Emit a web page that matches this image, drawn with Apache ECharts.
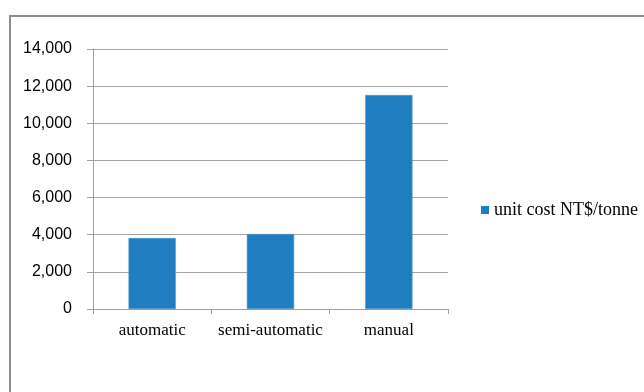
<!DOCTYPE html>
<html>
<head>
<meta charset="utf-8">
<script src="https://cdn.jsdelivr.net/npm/echarts@6/dist/echarts.min.js"></script>
<style>
html,body{margin:0;padding:0;background:#fff;}
#chart{width:644px;height:392px;}
</style>
</head>
<body>
<div id="chart"></div>
<script>
var categories = ['automatic', 'semi-automatic', 'manual'];
var seriesName = 'unit cost NT$/tonne';
var unitCost = [3820, 4040, 11520];
var yTicks = [0, 2000, 4000, 6000, 8000, 10000, 12000, 14000];

var chart = echarts.init(document.getElementById('chart'), null, {renderer: 'canvas'});
chart.setOption({
  animation: false,
  backgroundColor: '#ffffff',
  graphic: [{
    type: 'rect',
    shape: {x: 10, y: 16, width: 700, height: 420},
    style: {fill: 'none', stroke: '#8e8e8e', lineWidth: 2},
    silent: true
  }],
  grid: {left: 93, right: 196, top: 49, bottom: 83, containLabel: false},
  legend: {
    show: true,
    left: 481,
    top: 201,
    padding: 0,
    orient: 'vertical',
    itemWidth: 8,
    itemHeight: 8,
    icon: 'rect',
    itemStyle: {borderWidth: 0},
    textStyle: {fontFamily: 'Liberation Serif', fontSize: 18, color: '#000'},
    data: [seriesName]
  },
  xAxis: {
    type: 'category',
    data: categories,
    boundaryGap: true,
    axisLine: {show: true, lineStyle: {color: '#a0a0a0', width: 1}},
    axisTick: {show: true, interval: 0, length: 5, alignWithLabel: false, lineStyle: {color: '#a0a0a0'}},
    axisLabel: {interval: 0, margin: 13, fontFamily: 'Liberation Serif', fontSize: 17, color: '#000'}
  },
  yAxis: {
    type: 'value',
    min: yTicks[0],
    max: yTicks[yTicks.length - 1],
    interval: 2000,
    axisLine: {show: true, lineStyle: {color: '#a0a0a0', width: 1}},
    axisTick: {show: true, length: 6, lineStyle: {color: '#a0a0a0'}},
    splitLine: {show: true, lineStyle: {color: '#a6a6a6', width: 1}},
    axisLabel: {
      margin: 21,
      fontFamily: 'Liberation Sans',
      fontSize: 16,
      color: '#000',
      formatter: function (v) { return v.toLocaleString('en-US'); }
    }
  },
  series: [{
    name: seriesName,
    type: 'bar',
    data: unitCost,
    barWidth: '40%',
    itemStyle: {color: '#1f7dc0', borderColor: '#4f9bd3', borderWidth: 0.6}
  }]
});
</script>
</body>
</html>
